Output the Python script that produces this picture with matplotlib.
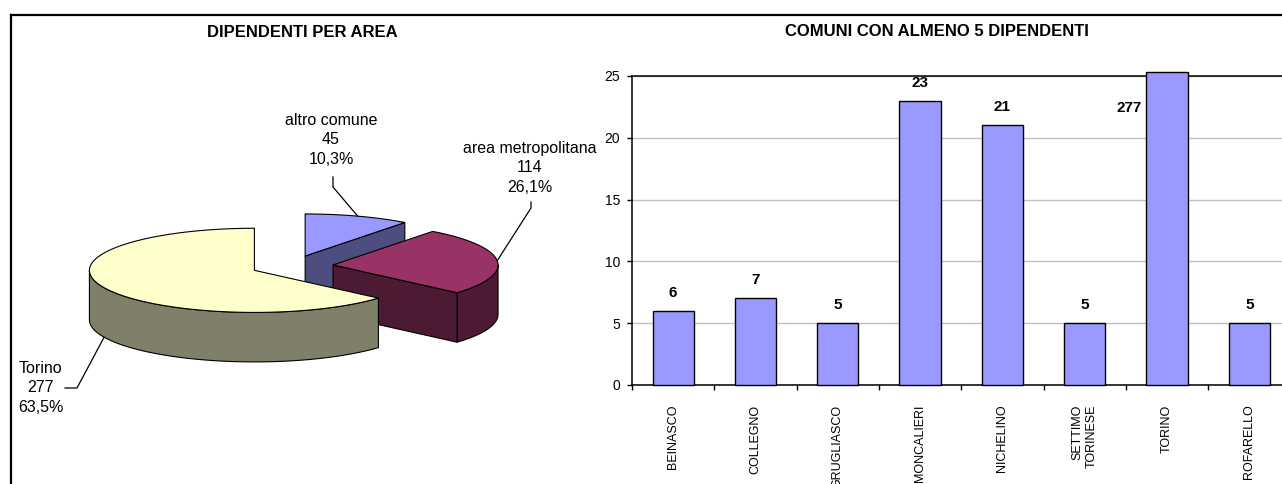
import matplotlib.pyplot as plt
import numpy as np
from matplotlib.patches import Polygon
from matplotlib.lines import Line2D

plt.rcParams['font.family'] = ['Liberation Sans', 'DejaVu Sans']

# pie: dipendenti per area (clockwise from 12 o'clock)
area_labels = ['altro comune', 'area metropolitana', 'Torino']
area_values = [45, 114, 277]
area_colors = ['#9999FF', '#993366', '#FFFFCC']
area_sides = ['#4D4D80', '#4D1A33', '#80806A']

# bars: comuni con almeno 5 dipendenti
comuni = ['BEINASCO', 'COLLEGNO', 'GRUGLIASCO', 'MONCALIERI', 'NICHELINO',
          'SETTIMO\nTORINESE', 'TORINO', 'ROFARELLO']
dipendenti = [6, 7, 5, 23, 21, 5, 277, 5]

W, H = 1282, 484
fig = plt.figure(figsize=(W / 100, H / 100), dpi=100)

# ---------- 3D pie, drawn by hand ----------
scale = 165.0          # px per unit radius
cx, cy = 292, 266      # pie centre, px from top-left
ry = 0.255             # vertical squash of the ellipse
depth = 0.30           # wall height
explode = 0.25

axp = fig.add_axes([0, 0, 600 / W, 1])
axp.set_xlim(-cx / scale, (600 - cx) / scale)
axp.set_ylim((cy - H) / scale, cy / scale)
axp.axis('off')


def px(x, y):
    # figure px (from top-left) -> pie data units
    return (x - cx) / scale, (cy - y) / scale


def rim(t, ox, oy, dz=0.0):
    return ox + np.sin(t), oy + ry * np.cos(t) - dz


vals = np.array(area_values, dtype=float)
frac = vals / vals.sum()
edges = np.concatenate([[0], np.cumsum(frac)]) * 2 * np.pi

slices = []
for i in range(len(vals)):
    t0, t1 = edges[i], edges[i + 1]
    tm = (t0 + t1) / 2
    ox, oy = explode * np.sin(tm), explode * ry * np.cos(tm)
    slices.append((oy, i, t0, t1, tm, ox))

# back to front
for z, (oy, i, t0, t1, tm, ox) in enumerate(sorted(slices, reverse=True)):
    zo = 2 + z * 3
    kw = dict(edgecolor='black', linewidth=0.8)
    # outer wall, front part only
    a, b = max(t0, np.pi / 2), min(t1, 3 * np.pi / 2)
    if b > a:
        tt = np.linspace(a, b, 80)
        top = np.column_stack(rim(tt, ox, oy))
        bot = np.column_stack(rim(tt[::-1], ox, oy, depth))
        axp.add_patch(Polygon(np.vstack([top, bot]), closed=True,
                              facecolor=area_sides[i], zorder=zo, **kw))
    # radial walls facing the viewer
    for t, visible in ((t1, np.sin(t1) > 1e-6), (t0, np.sin(t0) < -1e-6)):
        if visible:
            rx_, ry_ = rim(t, ox, oy)
            poly = [(ox, oy), (rx_, ry_), (rx_, ry_ - depth), (ox, oy - depth)]
            axp.add_patch(Polygon(poly, closed=True, facecolor=area_sides[i],
                                  zorder=zo + 1, **kw))
    # top face
    tt = np.linspace(t0, t1, 160)
    face = np.vstack([[ox, oy], np.column_stack(rim(tt, ox, oy))])
    axp.add_patch(Polygon(face, closed=True, facecolor=area_colors[i],
                          zorder=zo + 2, **kw))

# labels with leader lines (layout in px)
label_pos = [(331, 140), (530, 168), (18, 388)]
label_ha = ['center', 'center', 'left']
leader_elbow = [(333, 187), (531, 208), (77, 388)]
leader_end = [(333, 177), (531, 202), (65, 388)]
for oy, i, t0, t1, tm, ox in slices:
    pct = f"{100 * frac[i]:.1f}".replace('.', ',')
    tx, ty = px(*label_pos[i])
    axp.text(tx, ty, f"{area_labels[i]}\n{area_values[i]}\n{pct}%",
             ha=label_ha[i], va='center', multialignment='center',
             fontsize=11.5, linespacing=1.38, zorder=20)
    dz = depth if np.cos(tm) < 0 else 0.0
    ax_, ay_ = rim(tm, ox, oy, dz)
    ex, ey = px(*leader_elbow[i])
    fx, fy = px(*leader_end[i])
    axp.plot([ax_, ex, fx], [ay_, ey, fy], color='black', lw=0.9, zorder=20)

fig.text(302 / W, 1 - 33 / H, 'DIPENDENTI PER AREA', ha='center', va='center',
         fontsize=12, fontweight='bold')

# ---------- bar chart ----------
ymax = 25
step = 82.3
axb = fig.add_axes([632 / W, (H - 385) / H, len(comuni) * step / W, 309 / H])
x = np.arange(len(comuni))
bw = 0.5
heights = np.minimum(dipendenti, ymax + 0.3)
axb.bar(x, heights, bw, color='#9999FF', edgecolor='black', linewidth=1,
        zorder=3, clip_on=False)
axb.set_xlim(-0.5, len(comuni) - 0.5)
axb.set_ylim(0, ymax)

for i, v in enumerate(dipendenti):
    if v <= ymax:
        axb.annotate(str(v), (i, v), xytext=(0, 13), textcoords='offset points',
                     ha='center', va='center', fontsize=11, fontweight='bold')
    else:
        axb.annotate(str(v), (i - bw / 2, ymax), xytext=(-3, -23),
                     textcoords='offset points', ha='right', va='center',
                     fontsize=11, fontweight='bold')

axb.set_yticks(np.arange(0, ymax + 1, 5))
axb.tick_params(axis='y', labelsize=10, length=3.6, pad=5, width=1)
axb.set_xticks(x)
axb.set_xticklabels(comuni, rotation=90, fontsize=9)
for lbl in axb.get_xticklabels():
    lbl.set_multialignment('right')
axb.tick_params(axis='x', which='major', length=0, pad=14)
axb.set_xticks(np.arange(-0.5, len(comuni), 1), minor=True)
axb.tick_params(axis='x', which='minor', length=3.6, direction='out', width=1)

axb.yaxis.grid(True, color='#C0C0C0', linewidth=1)
axb.set_axisbelow(True)
axb.spines['right'].set_visible(False)
for s in ('left', 'top', 'bottom'):
    axb.spines[s].set_color('black')
    axb.spines[s].set_linewidth(1.1)

fig.text(937 / W, 1 - 32 / H, 'COMUNI CON ALMENO 5 DIPENDENTI', ha='center',
         va='center', fontsize=12, fontweight='bold')

# outer frame of the sheet
fig.add_artist(Line2D([11 / W, 11 / W], [0, 1 - 14.5 / H], color='black', lw=1.6,
                      transform=fig.transFigure))
fig.add_artist(Line2D([11 / W, 1], [1 - 14.5 / H, 1 - 14.5 / H], color='black',
                      lw=1.6, transform=fig.transFigure))

fig.savefig('out.png', dpi=100)
